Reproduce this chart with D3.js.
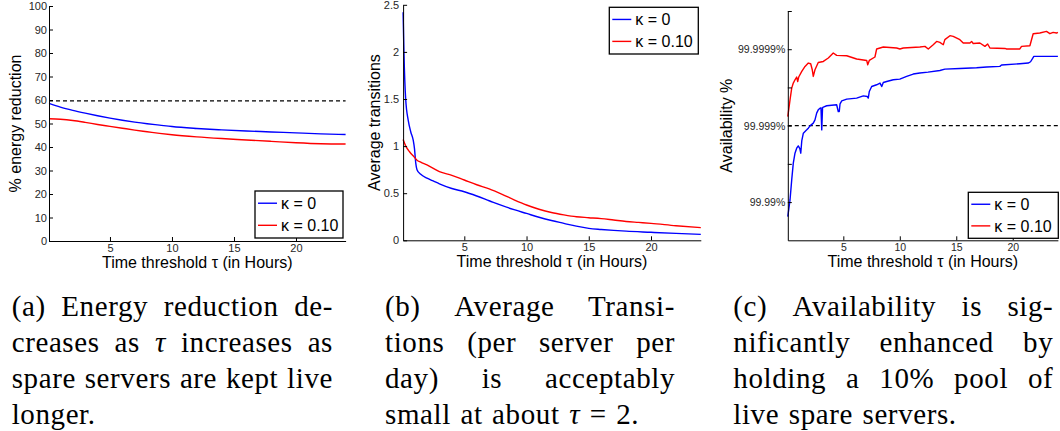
<!DOCTYPE html>
<html>
<head>
<meta charset="utf-8">
<script src="https://cdn.jsdelivr.net/npm/d3@7"></script>
<style>
  body { margin: 0; background: #fff; }
  svg { display: block; font-family: "Liberation Sans", Arial, Helvetica, sans-serif; }
</style>
</head>
<body>
<svg id="fig" width="1060" height="431"></svg>
<script>
// ---------------- data ----------------
// Time threshold τ in hours (x for every panel)
const tauDomain = [1 / 12, 24];
const xTickValues = [5, 10, 15, 20];

// (a) % energy reduction
const tauEnergy = [0.083, 1, 2, 3, 4, 5, 6, 7, 8, 9, 10, 12, 14, 16, 18, 20, 22, 24];
const energyK0  = [58.6, 57.0, 55.6, 54.4, 53.3, 52.3, 51.4, 50.6, 49.9, 49.3, 48.7, 47.9, 47.3, 46.8, 46.4, 46.0, 45.6, 45.3];
const energyK10 = [52.0, 51.8, 51.3, 50.5, 49.6, 48.8, 48.0, 47.2, 46.5, 45.8, 45.2, 44.3, 43.6, 43.0, 42.4, 41.8, 41.4, 41.3];
const energyBound = 59.6;
const energyTicks = [0, 10, 20, 30, 40, 50, 60, 70, 80, 90, 100];

// (b) average transitions per server per day
const tauTransK0 = [0.083, 0.15, 0.29, 0.5, 0.7, 0.9, 1.0, 1.1, 1.2, 1.5, 2, 2.5, 3, 4, 5, 6, 7, 8, 9, 10, 11, 12, 13, 14, 15, 16, 17, 18, 20, 22, 24];
const transK0   = [2.42, 2.0, 1.5, 1.27, 1.15, 1.06, 0.97, 0.82, 0.75, 0.70, 0.66, 0.63, 0.60, 0.55, 0.515, 0.47, 0.42, 0.37, 0.325, 0.285, 0.245, 0.21, 0.18, 0.15, 0.127, 0.115, 0.105, 0.097, 0.085, 0.073, 0.063];
const tauTransK10 = [0.083, 0.3, 0.6, 1.0, 1.2, 1.5, 2, 3, 4, 5, 6, 7, 8, 9, 10, 11, 12, 13, 14, 15, 16, 17, 18, 19, 20, 22, 24];
const transK10  = [1.07, 1.0, 0.94, 0.88, 0.85, 0.83, 0.80, 0.73, 0.69, 0.64, 0.59, 0.545, 0.49, 0.43, 0.375, 0.33, 0.295, 0.27, 0.25, 0.24, 0.23, 0.215, 0.20, 0.19, 0.18, 0.155, 0.134];
const transTicks = [0, 0.5, 1, 1.5, 2, 2.5];

// (c) availability, expressed as number of nines (5 nines = 99.999%)
const tauAvailK0 = [0.083, 0.28, 0.43, 0.57, 0.72, 0.87, 1.01, 1.15, 1.23, 1.32, 1.46, 1.76, 1.90, 2.05, 2.34, 2.49, 2.64, 2.78, 2.94, 3.02, 3.09, 3.16, 3.23, 3.53, 4.41, 4.55, 4.64, 4.71, 4.86, 5.30, 6.18, 6.77, 7.12, 7.21, 7.30, 7.51, 7.95, 8.25, 8.40, 8.54, 8.84, 9.42, 10.00, 10.61, 11.19, 11.78, 12.5, 13.55, 13.99, 15.32, 16.80, 17.69, 18.86, 19.01, 20.63, 21.37, 21.58, 21.87, 24.0];
const availK0   = [3.809, 4.028, 4.290, 4.509, 4.640, 4.705, 4.735, 4.700, 4.640, 4.800, 4.902, 4.945, 4.967, 4.997, 5.033, 5.076, 5.164, 5.207, 5.229, 5.233, 4.945, 5.233, 5.243, 5.260, 5.273, 5.185, 5.185, 5.286, 5.325, 5.347, 5.360, 5.390, 5.381, 5.360, 5.447, 5.512, 5.535, 5.557, 5.512, 5.565, 5.578, 5.600, 5.609, 5.644, 5.675, 5.688, 5.700, 5.722, 5.740, 5.748, 5.758, 5.767, 5.775, 5.793, 5.810, 5.819, 5.836, 5.906, 5.906];
const tauAvailK10 = [0.083, 0.28, 0.43, 0.57, 0.72, 0.87, 0.96, 1.05, 1.32, 1.61, 1.90, 2.11, 2.25, 2.34, 2.49, 2.78, 3.23, 3.67, 4.11, 4.41, 5.30, 6.18, 7.07, 7.16, 7.30, 7.80, 7.95, 8.54, 9.72, 10.01, 10.31, 11.78, 12.23, 12.52, 12.96, 13.26, 13.55, 13.85, 13.99, 14.44, 14.73, 15.32, 15.62, 16.21, 16.36, 16.50, 17.09, 17.54, 17.78, 17.98, 19.31, 19.46, 20.63, 20.78, 21.52, 21.81, 22.40, 22.99, 23.29, 23.58, 23.88, 24.0];
const availK10  = [5.119, 5.338, 5.491, 5.557, 5.600, 5.636, 5.578, 5.636, 5.709, 5.775, 5.819, 5.810, 5.731, 5.644, 5.731, 5.827, 5.840, 5.885, 5.950, 5.919, 5.915, 5.872, 5.853, 5.797, 5.853, 5.898, 6.003, 6.029, 6.016, 6.003, 6.016, 6.029, 6.037, 6.003, 6.059, 6.102, 6.089, 6.059, 6.125, 6.177, 6.168, 6.125, 6.081, 6.081, 6.102, 6.075, 6.081, 6.037, 6.068, 6.016, 6.010, 6.003, 6.003, 6.037, 6.046, 6.203, 6.212, 6.233, 6.203, 6.220, 6.212, 6.220];
const availTarget = 5;
const availDomain = [3.5, 6.5];
const availTicks = [4, 4.5, 5, 5.5, 6, 6.5];

// legend entries and titles
const seriesNames = ["κ = 0", "κ = 0.10"];
const seriesColors = ["#0000ff", "#ff0000"];
const xTitle = "Time threshold τ (in Hours)";
const yTitles = ["% energy reduction", "Average transitions", "Availability %"];

const captions = [
  ["(a) Energy reduction de-", "creases as τ increases as", "spare servers are kept live", "longer."],
  ["(b) Average Transi-", "tions (per server per", "day) is acceptably", "small at about τ = 2."],
  ["(c) Availability is sig-", "nificantly enhanced by", "holding a 10% pool of", "live spare servers."]
];

// ---------------- drawing ----------------
const svg = d3.select("#fig");

function ninesLabel(n) {
  return "99." + "9".repeat(n - 2) + "%";
}

function drawPanel(p) {
  const g = svg.append("g");
  const x = d3.scaleLinear().domain(tauDomain).range([p.left, p.right]);
  const y = d3.scaleLinear().domain(p.yDomain).range([p.bottom, p.top]);

  // reference dashed line (where the panel has one)
  if (p.refValue != null) {
    g.append("line")
      .attr("x1", x(tauDomain[0])).attr("x2", x(tauDomain[1]))
      .attr("y1", y(p.refValue)).attr("y2", y(p.refValue))
      .attr("stroke", "#000").attr("stroke-width", 1.3)
      .attr("stroke-dasharray", "4,3");
  }

  // series
  const line = d3.line().x(d => x(d[0])).y(d => y(d[1])).curve(p.curve);
  p.series.forEach((s, i) => {
    g.append("path")
      .datum(d3.zip(s.tau, s.values))
      .attr("fill", "none")
      .attr("stroke", seriesColors[i])
      .attr("stroke-width", 1.4)
      .attr("stroke-linejoin", "round")
      .attr("d", line);
  });

  // x axis
  const xa = g.append("g")
    .attr("transform", `translate(0,${p.bottom})`)
    .call(d3.axisBottom(x).tickValues(xTickValues).tickSize(-4).tickSizeOuter(0).tickPadding(3));
  // y axis
  const ya = g.append("g")
    .attr("transform", `translate(${p.left},0)`)
    .call(d3.axisLeft(y).tickValues(p.yTicks).tickFormat(p.yFormat)
      .tickSize(-4).tickSizeOuter(0).tickPadding(p.yPad));

  [xa, ya].forEach(a => {
    a.select(".domain").attr("stroke", "#000").attr("stroke-width", 1);
    a.selectAll(".tick line").attr("stroke", "#000").attr("stroke-width", 1);
    a.selectAll(".tick text").attr("fill", "#262626")
      .style("font-family", '"Liberation Sans", Arial, sans-serif')
      .style("font-size", p.tickFont + "px");
  });

  // axis titles
  g.append("text")
    .attr("x", (p.left + p.right) / 2).attr("y", p.bottom + 27)
    .attr("text-anchor", "middle").style("font-size", "16px").attr("fill", "#000")
    .text(xTitle);
  g.append("text")
    .attr("transform", `translate(${p.yTitleX},${(p.top + p.bottom) / 2}) rotate(-90)`)
    .attr("text-anchor", "middle").style("font-size", "16px").attr("fill", "#000")
    .text(p.yTitle);

  // legend
  const L = p.legend;
  const lg = g.append("g");
  lg.append("rect")
    .attr("x", L.x).attr("y", L.y).attr("width", L.w).attr("height", L.h)
    .attr("fill", "#fff").attr("stroke", "#000").attr("stroke-width", 1.3);
  seriesNames.forEach((name, i) => {
    const cy = L.y + L.h * (i === 0 ? 0.26 : 0.73);
    lg.append("line")
      .attr("x1", L.x + 3).attr("x2", L.x + 22)
      .attr("y1", cy).attr("y2", cy)
      .attr("stroke", seriesColors[i]).attr("stroke-width", 1.4);
    lg.append("text")
      .attr("x", L.x + 26).attr("y", cy + 6)
      .style("font-size", "16px").attr("fill", "#000")
      .text(name);
  });
}

drawPanel({
  left: 49, right: 345.6, top: 6, bottom: 241,
  yDomain: [0, 100], yTicks: energyTicks, yFormat: d3.format("d"), yPad: 2, tickFont: 11,
  refValue: energyBound, curve: d3.curveMonotoneX,
  series: [{ tau: tauEnergy, values: energyK0 }, { tau: tauEnergy, values: energyK10 }],
  yTitle: yTitles[0], yTitleX: 21,
  legend: { x: 255, y: 191, w: 88, h: 47 }
});

drawPanel({
  left: 403.1, right: 700.8, top: 4.8, bottom: 240.3,
  yDomain: [0, 2.5], yTicks: transTicks, yFormat: d => String(d), yPad: 4, tickFont: 11,
  refValue: null, curve: d3.curveMonotoneX,
  series: [{ tau: tauTransK0, values: transK0 }, { tau: tauTransK10, values: transK10 }],
  yTitle: yTitles[1], yTitleX: 380,
  legend: { x: 609.3, y: 7.3, w: 89, h: 46.7 }
});

drawPanel({
  left: 787.8, right: 1057.9, top: 11, bottom: 240.3,
  yDomain: availDomain, yTicks: availTicks,
  yFormat: d => Number.isInteger(d) ? ninesLabel(d) : "", yPad: 2.5, tickFont: 10.5,
  refValue: availTarget, curve: d3.curveLinear,
  series: [{ tau: tauAvailK0, values: availK0 }, { tau: tauAvailK10, values: availK10 }],
  yTitle: yTitles[2], yTitleX: 732,
  legend: { x: 968.3, y: 192.3, w: 90, h: 46 }
});

// ---------------- captions (justified paragraphs) ----------------
const capCols = [{ x: 11.7, w: 321.3 }, { x: 385, w: 290 }, { x: 733.3, w: 320 }];
const capBaselines = [316, 352, 388, 424];
const capFont = 29;

captions.forEach((lines, ci) => {
  const col = capCols[ci];
  const cg = svg.append("g")
    .style("font-family", '"Liberation Serif", "Times New Roman", serif')
    .style("font-size", capFont + "px")
    .style("letter-spacing", "0.6px");
  lines.forEach((ln, li) => {
    const words = ln.split(" ");
    const nodes = words.map(w => {
      const t = cg.append("text").attr("y", capBaselines[li]).attr("fill", "#000");
      if (w === "τ") t.append("tspan").style("font-style", "italic").text(w);
      else t.text(w);
      return t;
    });
    const widths = nodes.map(t => t.node().getComputedTextLength());
    const total = d3.sum(widths);
    const last = li === lines.length - 1;
    const gap = last ? capFont * 0.33 : (col.w - total) / (words.length - 1);
    let cx = col.x;
    nodes.forEach((t, i) => {
      t.attr("x", cx);
      cx += widths[i] + gap;
    });
  });
});
</script>
</body>
</html>
